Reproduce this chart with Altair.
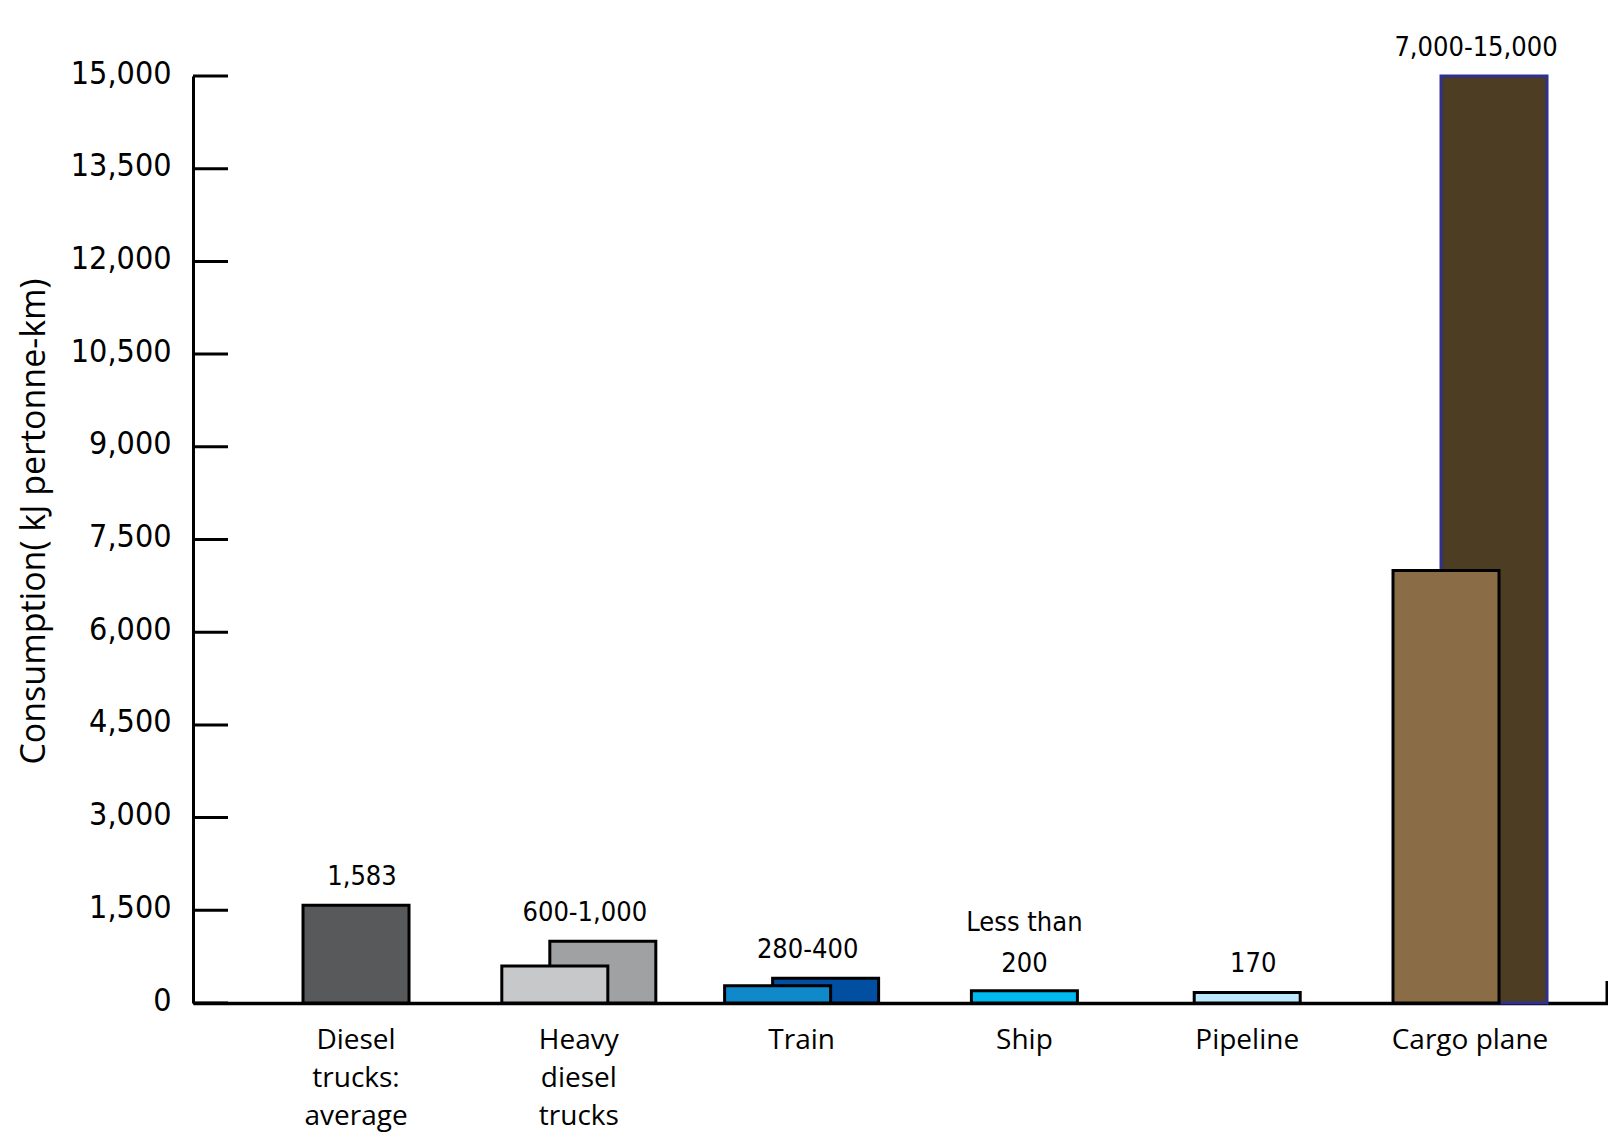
import altair as alt
import pandas as pd

# ---- data ----
categories = ["Diesel\ntrucks:\naverage", "Heavy\ndiesel\ntrucks", "Train", "Ship", "Pipeline", "Cargo plane"]
low_values = [1583, 600, 280, 200, 170, 7000]
high_values = [None, 1000, 400, None, None, 15000]
value_labels = ["1,583", "600-1,000", "280-400", "Less than\n200", "170", "7,000-15,000"]
y_ticks = [0, 1500, 3000, 4500, 6000, 7500, 9000, 10500, 12000, 13500, 15000]
y_title = "Consumption( kJ pertonne-km)"

# ---- styles ----
low_fill = ["#58595b", "#c7c8ca", "#1089cb", "#00b9ef", "#bee8fb", "#8a6c46"]
high_fill = [None, "#a0a1a3", "#024ea1", None, None, "#4d3d22"]
high_stroke = [None, "black", "black", None, None, "#2e3192"]

W, H = 1415, 927
NARROW = "'Liberation Sans Narrow', 'DejaVu Sans Condensed', 'Liberation Sans', sans-serif"
SANS = "'Open Sans', 'Noto Sans', sans-serif"

rows = []
keys, fills, strokes = [], [], []
for i, c in enumerate(categories):
    paired = high_values[i] is not None
    rows.append(dict(category=c, level="low", value=low_values[i], paired=paired, key=f"{i}-low"))
    keys.append(f"{i}-low"); fills.append(low_fill[i]); strokes.append("black")
    if paired:
        rows.append(dict(category=c, level="high", value=high_values[i], paired=True, key=f"{i}-high"))
        keys.append(f"{i}-high"); fills.append(high_fill[i]); strokes.append(high_stroke[i])
bars = pd.DataFrame(rows)

labels = pd.DataFrame({
    "category": categories,
    "label": value_labels,
    "value": [max(l, h) if h is not None else l for l, h in zip(low_values, high_values)],
})
ticks = pd.DataFrame({"value": y_ticks})

x_axis = alt.Axis(
    title=None, labelExpr="split(datum.label, '\\n')", labelAngle=0,
    labelFont=SANS, labelFontSize=28, labelColor="black", labelLineHeight=38,
    labelPadding=23, labelBaseline="top", ticks=False, labelOverlap=False, labelBound=False,
    domainColor="black", domainWidth=3.5, grid=False,
)
y_axis = alt.Axis(
    title=y_title, values=y_ticks, format=",d", ticks=False, grid=False,
    domainColor="black", domainWidth=3,
    labelFont=NARROW, labelFontSize=32, labelColor="black", labelPadding=22, labelOffset=-3,
    titleFont=SANS, titleFontSize=34, titleFontWeight="normal", titleColor="black",
    titleX=-159, titleY=445, titleAngle=270, titleAlign="center", titleBaseline="middle",
)
x_scale = alt.Scale(domain=categories, paddingInner=0, paddingOuter=0.1755, align=0.66)
y_scale = alt.Scale(domain=[0, 15000], nice=False, zero=True)

X = alt.X("category:N", sort=categories, scale=x_scale, axis=x_axis)
Y = alt.Y("value:Q", scale=y_scale, axis=y_axis, stack=None)
fill_enc = alt.Color("key:N", scale=alt.Scale(domain=keys, range=fills), legend=None)
stroke_enc = alt.Stroke("key:N", scale=alt.Scale(domain=keys, range=strokes), legend=None)

base = alt.Chart(bars)
high_layer = base.transform_filter("datum.level == 'high'").mark_bar(
    width=106, xOffset=24, strokeWidth=3, opacity=1
).encode(x=X, y=Y, color=fill_enc, stroke=stroke_enc)
low_pair_layer = base.transform_filter("datum.level == 'low' && datum.paired").mark_bar(
    width=106, xOffset=-24, strokeWidth=3, opacity=1
).encode(x=X, y=Y, color=fill_enc, stroke=stroke_enc)
single_layer = base.transform_filter("datum.level == 'low' && !datum.paired").mark_bar(
    width=106, strokeWidth=3, opacity=1
).encode(x=X, y=Y, color=fill_enc, stroke=stroke_enc)

text_single = alt.Chart(labels).transform_filter(
    "indexof(datum.label, '\\n') < 0"
).mark_text(
    font=NARROW, fontSize=27, color="black", baseline="alphabetic", dy=-20, dx=6,
).encode(x=X, y=Y, text="label:N")
text_multi = alt.Chart(labels).transform_filter(
    "indexof(datum.label, '\\n') >= 0"
).mark_text(
    font=NARROW, fontSize=27, color="black", baseline="alphabetic", dy=-60, dx=0,
    lineBreak="\n", lineHeight=41,
).encode(x=X, y=Y, text="label:N")

tick_layer = alt.Chart(ticks).mark_rule(color="black", strokeWidth=3).encode(
    y=Y, x=alt.value(0), x2=alt.value(35)
)
end_tick = alt.Chart(alt.Data(values=[{}])).mark_rule(color="black", strokeWidth=3).encode(
    x=alt.value(W - 1), y=alt.value(H - 22), y2=alt.value(H)
)

chart = alt.layer(
    high_layer, low_pair_layer, single_layer, text_single, text_multi, tick_layer, end_tick
).properties(
    width=W, height=H,
    autosize=alt.AutoSizeParams(type="none"),
    padding={"left": 185, "top": 68, "right": 0, "bottom": 135},
    background="white",
).configure_view(stroke=None)

chart.save("out.html", embed_options={"renderer": "svg", "actions": False})
